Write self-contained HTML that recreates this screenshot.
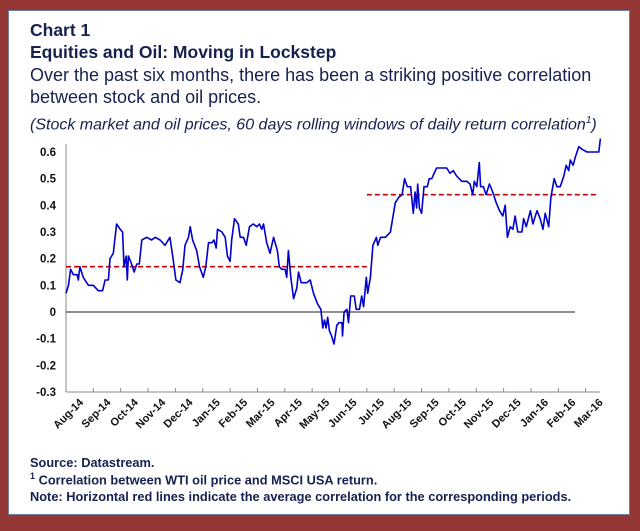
<!DOCTYPE html>
<html><head><meta charset="utf-8"><style>
body{margin:0;width:640px;height:531px;background:#943634;position:relative;overflow:hidden;font-family:"Liberation Sans",Arial,sans-serif;}
#panel{position:absolute;left:8px;top:10px;width:622px;height:505px;background:#fff;border:1px solid #6d7fa0;box-sizing:border-box;}
.t{position:absolute;color:#17214f;white-space:nowrap;}
</style></head><body>
<div id="panel"></div>
<div class="t" style="left:30px;top:20px;font-size:17.5px;font-weight:bold;">Chart 1</div>
<div class="t" style="left:30px;top:42px;font-size:17.5px;font-weight:bold;">Equities and Oil: Moving in Lockstep</div>
<div class="t" style="left:30px;top:64px;font-size:18px;line-height:22px;">Over the past six months, there has been a striking positive correlation<br>between stock and oil prices.</div>
<div class="t" style="left:30px;top:115px;font-size:16px;font-style:italic;">(Stock market and oil prices, 60 days rolling windows of daily return correlation<sup style="font-size:10px">1</sup>)</div>
<div class="t" style="left:30px;top:455px;font-size:12.8px;font-weight:bold;">Source: Datastream.</div>
<div class="t" style="left:30px;top:471px;font-size:12.8px;font-weight:bold;"><sup style="font-size:9px">1</sup> Correlation between WTI oil price and MSCI USA return.</div>
<div class="t" style="left:30px;top:489px;font-size:12.8px;font-weight:bold;">Note: Horizontal red lines indicate the average correlation for the corresponding periods.</div>
<svg id="chart" width="640" height="531" style="position:absolute;left:0;top:0"></svg>
<script>
const monthLabels=["Aug-14","Sep-14","Oct-14","Nov-14","Dec-14","Jan-15","Feb-15","Mar-15","Apr-15","May-15","Jun-15","Jul-15","Aug-15","Sep-15","Oct-15","Nov-15","Dec-15","Jan-16","Feb-16","Mar-16"];
const yTicks=[0.6,0.5,0.4,0.3,0.2,0.1,0,-0.1,-0.2,-0.3];
const yTickLabels=["0.6","0.5","0.4","0.3","0.2","0.1","0","-0.1","-0.2","-0.3"];
const seriesMonths=[0,0.09,0.17,0.27,0.41,0.45,0.51,0.63,0.82,1.0,1.18,1.34,1.43,1.55,1.61,1.73,1.85,1.98,2.07,2.12,2.2,2.24,2.28,2.4,2.49,2.59,2.68,2.77,2.95,3.13,3.26,3.44,3.62,3.8,3.9,4.02,4.17,4.27,4.35,4.48,4.54,4.63,4.78,4.88,5.02,5.11,5.21,5.33,5.41,5.49,5.54,5.7,5.82,5.9,6.0,6.06,6.16,6.3,6.37,6.49,6.59,6.71,6.85,6.98,7.07,7.16,7.22,7.34,7.46,7.59,7.73,7.8,7.89,8.01,8.07,8.13,8.22,8.32,8.44,8.5,8.6,8.8,8.93,9.05,9.2,9.32,9.39,9.45,9.51,9.57,9.63,9.71,9.8,9.9,9.98,10.09,10.11,10.17,10.27,10.33,10.41,10.54,10.61,10.73,10.81,10.88,10.98,11.03,11.13,11.22,11.35,11.4,11.5,11.68,11.86,12.04,12.17,12.29,12.38,12.48,12.6,12.7,12.76,12.82,12.86,12.92,13.0,13.09,13.21,13.28,13.37,13.55,13.74,13.92,14.04,14.16,14.28,14.47,14.65,14.77,14.87,14.93,15.02,15.11,15.16,15.26,15.36,15.48,15.6,15.73,15.85,15.97,16.06,16.14,16.24,16.34,16.42,16.52,16.67,16.73,16.83,16.98,17.07,17.22,17.34,17.44,17.52,17.65,17.73,17.85,17.95,18.07,18.2,18.29,18.38,18.44,18.54,18.62,18.75,18.87,19.05,19.17,19.29,19.48,19.54];
const seriesValues=[0.07,0.10,0.16,0.14,0.14,0.12,0.17,0.13,0.10,0.10,0.08,0.08,0.12,0.12,0.20,0.22,0.33,0.31,0.30,0.17,0.21,0.12,0.21,0.18,0.15,0.18,0.18,0.27,0.28,0.27,0.28,0.27,0.25,0.28,0.21,0.12,0.11,0.16,0.25,0.28,0.32,0.27,0.23,0.17,0.13,0.17,0.26,0.26,0.27,0.24,0.31,0.30,0.28,0.21,0.19,0.27,0.35,0.33,0.28,0.28,0.25,0.32,0.33,0.32,0.33,0.31,0.33,0.26,0.22,0.28,0.23,0.17,0.16,0.16,0.13,0.23,0.13,0.05,0.09,0.15,0.11,0.11,0.12,0.07,0.03,0.01,-0.06,-0.03,-0.06,-0.02,-0.07,-0.09,-0.12,-0.05,-0.04,-0.04,-0.09,0.00,0.01,-0.04,0.06,0.06,0.01,0.01,0.06,0.02,0.13,0.07,0.13,0.25,0.28,0.25,0.28,0.28,0.30,0.41,0.43,0.44,0.50,0.47,0.47,0.37,0.45,0.39,0.48,0.39,0.37,0.47,0.47,0.50,0.50,0.54,0.54,0.54,0.52,0.53,0.51,0.49,0.49,0.48,0.44,0.49,0.47,0.56,0.47,0.47,0.44,0.48,0.45,0.41,0.38,0.36,0.40,0.28,0.32,0.31,0.36,0.30,0.30,0.35,0.32,0.38,0.33,0.38,0.35,0.31,0.37,0.32,0.43,0.50,0.47,0.47,0.51,0.55,0.53,0.57,0.55,0.58,0.62,0.61,0.60,0.60,0.60,0.60,0.65];
const avgStart=[0,11];
const avgEnd=[11,19.45];
const avgValues=[0.17,0.44];

const svg=document.getElementById('chart');
const NS='http://www.w3.org/2000/svg';
const X0=66,MW=27.35,Y0=312,YS=266.7;
const xs=m=>X0+m*MW, ys=v=>Y0-v*YS;
function mk(tag,attrs,parent){const e=document.createElementNS(NS,tag);for(const k in attrs)e.setAttribute(k,attrs[k]);(parent||svg).appendChild(e);return e;}
let ax=mk('line',{x1:X0,y1:ys(0.6)-8,x2:X0,y2:ys(-0.3),stroke:'#888','stroke-width':1});


let bx=mk('line',{x1:X0,y1:ys(-0.3),x2:600,y2:ys(-0.3),stroke:'#888','stroke-width':1});


yTicks.forEach((v,i)=>{
  const t=mk('text',{x:56,y:ys(v)+4,'text-anchor':'end','font-size':'11.5','font-weight':'bold',fill:'#111','font-family':'Liberation Sans, sans-serif'});
  t.textContent=yTickLabels[i];
  
  
});
monthLabels.forEach((lab,i)=>{
  const x=xs(i);
  const tk=mk('line',{x1:x,y1:ys(-0.3),x2:x,y2:ys(-0.3)-4,stroke:'#888'});
  
  
  const lx=x+18,ly=ys(-0.3)+11;
  const t=mk('text',{x:lx,y:ly,'text-anchor':'end','font-size':'11','font-weight':'bold',fill:'#111','font-family':'Liberation Sans, sans-serif',transform:`rotate(-45 ${lx} ${ly})`});
  t.textContent=lab;
  
  
});
let zl=mk('line',{x1:X0,y1:ys(0),x2:575,y2:ys(0),stroke:'#222','stroke-width':1});


avgValues.forEach((v,i)=>{
  const l=mk('line',{x1:xs(avgStart[i]),y1:ys(v),x2:xs(avgEnd[i]),y2:ys(v),stroke:'#c00000','stroke-width':1.6,'stroke-dasharray':'5,3'});
  
  
});
const pts=seriesMonths.map((m,i)=>xs(m).toFixed(1)+','+ys(seriesValues[i]).toFixed(1)).join(' ');
const pl=mk('polyline',{points:pts,fill:'none',stroke:'#0000cc','stroke-width':1.6,'stroke-linejoin':'round'});


</script>
</body></html>
